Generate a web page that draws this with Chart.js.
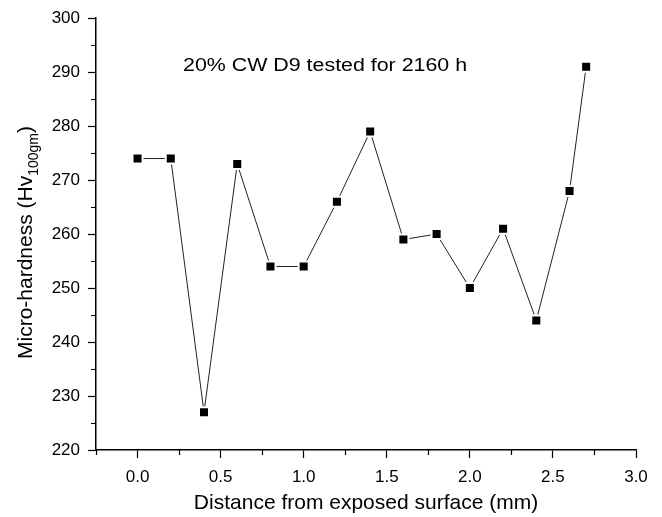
<!DOCTYPE html>
<html>
<head>
<meta charset="utf-8">
<script src="https://cdn.jsdelivr.net/npm/chart.js@4.4.0/dist/chart.umd.min.js"></script>
<style>
  html, body { margin: 0; padding: 0; background: #fff; }
  #wrap { width: 662px; height: 517px; }
</style>
</head>
<body>
<div id="wrap"><canvas id="myCanvas" width="662" height="517"></canvas></div>
<script>
// distance from exposed surface (mm)
const distance = [0, 0.2, 0.4, 0.6, 0.8, 1.0, 1.2, 1.4, 1.6, 1.8, 2.0, 2.2, 2.4, 2.6, 2.7];
// micro-hardness Hv100gm
const hardness = [274, 274, 227, 273, 254, 254, 266, 279, 259, 260, 250, 261, 244, 268, 291];

const xMajor = [0, 0.5, 1.0, 1.5, 2.0, 2.5, 3.0];
const xMinor = [-0.25, 0.25, 0.75, 1.25, 1.75, 2.25, 2.75];
const yMinor = [225, 235, 245, 255, 265, 275, 285, 295];

const noteText = "20% CW D9 tested for 2160 h";
const fontFam = "'Liberation Sans', Arial, Helvetica, sans-serif";

// minor ticks, y title with subscript, and the note inside the plot
const extras = {
  id: "extras",
  afterDraw(chart) {
    const ctx = chart.ctx;
    const x = chart.scales.x;
    const y = chart.scales.y;
    ctx.save();
    ctx.strokeStyle = "#000";
    ctx.lineWidth = 1.2;
    ctx.beginPath();
    xMinor.forEach((v) => {
      const px = Math.round(x.getPixelForValue(v)) + 0.5;
      ctx.moveTo(px, x.top);
      ctx.lineTo(px, x.top + 5);
    });
    yMinor.forEach((v) => {
      const py = Math.round(y.getPixelForValue(v)) + 0.5;
      ctx.moveTo(y.right, py);
      ctx.lineTo(y.right - 5, py);
    });
    ctx.stroke();

    // y axis title
    ctx.fillStyle = "#000";
    ctx.textBaseline = "alphabetic";
    ctx.textAlign = "left";
    const mainFont = "21px " + fontFam;
    const subFont = "14px " + fontFam;
    ctx.font = mainFont;
    const w1 = ctx.measureText("Micro-hardness (Hv").width;
    const w3 = ctx.measureText(")").width;
    ctx.font = subFont;
    const w2 = ctx.measureText("100gm").width;
    const total = w1 + w2 + w3;
    const cy = 242.5;
    ctx.translate(32, cy + total / 2);
    ctx.rotate(-Math.PI / 2);
    ctx.font = mainFont;
    ctx.fillText("Micro-hardness (Hv", 0, 0);
    ctx.font = subFont;
    ctx.fillText("100gm", w1, 6);
    ctx.font = mainFont;
    ctx.fillText(")", w1 + w2, 0);
    ctx.restore();

    // note
    ctx.save();
    ctx.fillStyle = "#000";
    ctx.font = "17.5px " + fontFam;
    ctx.textBaseline = "alphabetic";
    const nx = x.getPixelForValue(0.274);
    const ny = y.getPixelForValue(290.3);
    const nw = ctx.measureText(noteText).width;
    ctx.translate(nx, ny);
    ctx.scale(284 / nw, 1);
    ctx.fillText(noteText, 0, 0);
    ctx.restore();
  },
};

const line = document.getElementById("myCanvas");
new Chart(line, {
  type: "line",
  data: {
    datasets: [
      {
        data: distance.map((d, i) => ({ x: d, y: hardness[i] })),
        borderColor: "#222",
        borderWidth: 1,
        fill: false,
        tension: 0,
        pointStyle: "rect",
        pointRadius: 7.1,
        pointHoverRadius: 7.1,
        pointBackgroundColor: "#000",
        pointBorderColor: "#fff",
        pointBorderWidth: 2,
      },
    ],
  },
  options: {
    responsive: false,
    animation: false,
    layout: {
      padding: { left: 0, right: 26, top: 14, bottom: 0 },
    },
    plugins: {
      legend: { display: false },
      tooltip: { enabled: false },
    },
    scales: {
      x: {
        type: "linear",
        min: -0.25,
        max: 3.0,
        afterBuildTicks: (scale) => {
          scale.ticks = xMajor.map((v) => ({ value: v }));
        },
        afterFit: (scale) => {
          scale.height = 67;
        },
        border: { display: true, color: "#000", width: 1.5 },
        grid: {
          drawOnChartArea: false,
          drawTicks: true,
          tickLength: 8,
          tickColor: "#000",
          tickWidth: 1.2,
        },
        ticks: {
          autoSkip: false,
          maxRotation: 0,
          padding: 9,
          color: "#000",
          font: { family: fontFam, size: 17 },
          callback: (v) => Number(v).toFixed(1),
        },
        title: {
          display: true,
          text: "Distance from exposed surface (mm)",
          color: "#000",
          font: { family: fontFam, size: 21 },
          padding: { top: 0, bottom: 1 },
        },
      },
      y: {
        type: "linear",
        min: 220,
        max: 300,
        afterFit: (scale) => {
          scale.width = 96;
        },
        border: { display: true, color: "#000", width: 1.5 },
        grid: {
          drawOnChartArea: false,
          drawTicks: true,
          tickLength: 8,
          tickColor: "#000",
          tickWidth: 1.2,
        },
        ticks: {
          stepSize: 10,
          padding: 8,
          color: "#000",
          font: { family: fontFam, size: 17 },
        },
      },
    },
  },
  plugins: [extras],
});
</script>
</body>
</html>
